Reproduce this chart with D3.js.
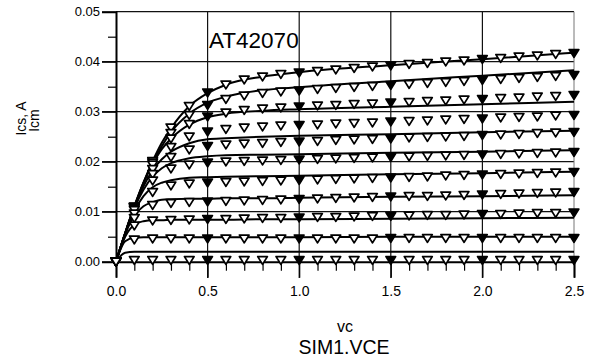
<!DOCTYPE html>
<html>
<head>
<meta charset="utf-8">
<script src="https://cdn.jsdelivr.net/npm/d3@7/dist/d3.min.js"></script>
<style>
  html, body { margin: 0; padding: 0; background: #fff; }
  svg { display: block; font-family: "Liberation Sans", Arial, sans-serif; }
</style>
</head>
<body>
<svg id="chart" width="595" height="362"></svg>
<script>
// ---------------- DATA ----------------
const chartTitle = "AT42070";
const yTitleLines = ["Ics, A", "Icm"];
const xTitleLines = ["vc", "SIM1.VCE"];
const xTickValues = [0.0, 0.5, 1.0, 1.5, 2.0, 2.5];
const xTickLabels = ["0.0", "0.5", "1.0", "1.5", "2.0", "2.5"];
const yTickValues = [0.00, 0.01, 0.02, 0.03, 0.04, 0.05];
const yTickLabels = ["0.00", "0.01", "0.02", "0.03", "0.04", "0.05"];
const xMinorTicks = [0.1,0.2,0.3,0.4,0.6,0.7,0.8,0.9,1.1,1.2,1.3,1.4,1.6,1.7,1.8,1.9,2.1,2.2,2.3,2.4];
const yMinorTicks = [0.005, 0.015, 0.025, 0.035, 0.045];

// simulated curves (solid lines): VCE points and Icm values
const simVce = [0, 0.05, 0.1, 0.15, 0.2, 0.25, 0.3, 0.4, 0.5, 0.6, 0.8, 1.0, 1.5, 2.0, 2.5];
const sim1  = [0, .0056, .0109, .0158, .0201, .0238, .0267, .0311, .0337, .0354, .0370, .0379, .0393, .0405, .0418];
const sim2  = [0, .0056, .0109, .0157, .0198, .0231, .0259, .0296, .0318, .0330, .0343, .0349, .0361, .0372, .0383];
const sim3  = [0, .0057, .0111, .0158, .0195, .0225, .0246, .0274, .0289, .0296, .0302, .0305, .0310, .0315, .0320];
const sim4  = [0, .0058, .0109, .0151, .0183, .0205, .0220, .0237, .0245, .0247, .0250, .0252, .0255, .0259, .0262];
const sim5  = [0, .0057, .0107, .0144, .0170, .0187, .0197, .0207, .0211, .0213, .0214, .0215, .0218, .0220, .0223];
const sim6  = [0, .0056, .0101, .0131, .0149, .0158, .0163, .0168, .0169, .0170, .0171, .0172, .0175, .0177, .0180];
const sim7  = [0, .0055, .0092, .0111, .0119, .0124, .0125, .0126, .0126, .0127, .0127, .0128, .0130, .0131, .0133];
const sim8  = [0, .0050, .0074, .0081, .0083, .0083, .0084, .0084, .0084, .0084, .0085, .0085, .0086, .0087, .0088];
const sim9  = [0, .0041, .0048, .0049, .0049, .0049, .0049, .0049, .0049, .0049, .0049, .0049, .0050, .0050, .0050];
const sim10 = [0, .0018, .0020, .0020, .0020, .0020, .0020, .0020, .0020, .0020, .0020, .0020, .0020, .0020, .0020];

// measured points (triangles): VCE every 0.1 V and Ics values
const measVce = [0,0.1,0.2,0.3,0.4,0.5,0.6,0.7,0.8,0.9,1.0,1.1,1.2,1.3,1.4,1.5,1.6,1.7,1.8,1.9,2.0,2.1,2.2,2.3,2.4,2.5];
const meas1  = [0,.0109,.0201,.0268,.0311,.0338,.0354,.0364,.0370,.0375,.0378,.0381,.0384,.0387,.0390,.0392,.0395,.0397,.0400,.0402,.0405,.0407,.0410,.0412,.0415,.0417];
const meas2  = [0,.0109,.0198,.0257,.0293,.0313,.0325,.0332,.0337,.0340,.0342,.0345,.0347,.0349,.0351,.0353,.0355,.0357,.0359,.0361,.0363,.0365,.0367,.0369,.0371,.0373];
const meas3  = [0,.0110,.0194,.0246,.0275,.0290,.0298,.0303,.0306,.0308,.0310,.0312,.0313,.0315,.0316,.0318,.0319,.0321,.0322,.0324,.0325,.0327,.0328,.0330,.0331,.0333];
const meas4  = [0,.0108,.0185,.0229,.0250,.0260,.0265,.0268,.0270,.0272,.0273,.0274,.0276,.0277,.0278,.0280,.0281,.0282,.0284,.0285,.0286,.0288,.0289,.0290,.0292,.0293];
const meas5  = [0,.0106,.0175,.0209,.0224,.0231,.0234,.0236,.0237,.0239,.0240,.0241,.0243,.0244,.0245,.0246,.0248,.0249,.0250,.0251,.0253,.0254,.0255,.0257,.0258,.0259];
const meas6  = [0,.0103,.0162,.0186,.0194,.0198,.0200,.0201,.0202,.0203,.0204,.0205,.0206,.0207,.0208,.0209,.0210,.0211,.0212,.0213,.0214,.0215,.0216,.0217,.0218,.0219];
const meas7  = [0,.0096,.0139,.0152,.0156,.0158,.0159,.0160,.0161,.0162,.0163,.0164,.0165,.0166,.0167,.0168,.0169,.0170,.0172,.0173,.0174,.0175,.0176,.0177,.0178,.0179];
const meas8  = [0,.0087,.0113,.0117,.0119,.0120,.0121,.0122,.0123,.0124,.0125,.0126,.0127,.0128,.0129,.0130,.0131,.0131,.0132,.0133,.0134,.0135,.0136,.0137,.0138,.0139];
const meas9  = [0,.0072,.0082,.0083,.0084,.0085,.0085,.0086,.0087,.0087,.0088,.0089,.0089,.0090,.0091,.0091,.0092,.0093,.0093,.0094,.0095,.0095,.0096,.0097,.0097,.0098];
const meas10 = [0,.0044,.0046,.0046,.0046,.0046,.0046,.0046,.0046,.0046,.0046,.0046,.0046,.0046,.0046,.0047,.0047,.0047,.0047,.0047,.0047,.0047,.0047,.0047,.0047,.0047];
const meas11 = [0,.0003,.0003,.0003,.0003,.0003,.0003,.0003,.0003,.0003,.0003,.0003,.0003,.0003,.0003,.0003,.0003,.0003,.0003,.0003,.0003,.0003,.0003,.0003,.0003,.0003];

const simSeries = [sim1, sim2, sim3, sim4, sim5, sim6, sim7, sim8, sim9, sim10];
const measSeries = [meas1, meas2, meas3, meas4, meas5, meas6, meas7, meas8, meas9, meas10, meas11];

// ---------------- DRAW ----------------
const svg = d3.select("#chart");
const x = d3.scaleLinear().domain([0, 2.5]).range([116, 574]);
const y = d3.scaleLinear().domain([0, 0.05]).range([261.7, 11.7]);

// gridlines
const grid = svg.append("g").attr("stroke", "#111").attr("stroke-width", 1.2);
grid.selectAll("line.h").data(yTickValues.filter(v => v > 0 && v < 0.05)).join("line")
  .attr("x1", 102).attr("x2", x(2.5)).attr("y1", d => y(d)).attr("y2", d => y(d));
grid.selectAll("line.v").data(xTickValues.filter(v => v > 0 && v < 2.5)).join("line")
  .attr("x1", d => x(d)).attr("x2", d => x(d)).attr("y1", y(0.05)).attr("y2", 278);

// frame: top and right
svg.append("line").attr("x1", x(0)).attr("x2", x(2.5)).attr("y1", y(0.05)).attr("y2", y(0.05))
  .attr("stroke", "#111").attr("stroke-width", 1.2);
svg.append("line").attr("x1", x(2.5)).attr("x2", x(2.5)).attr("y1", y(0.05)).attr("y2", y(0))
  .attr("stroke", "#777").attr("stroke-width", 1);

// axes via d3
const yAxis = d3.axisLeft(y).tickValues(yTickValues).tickFormat((d, i) => yTickLabels[i]).tickSize(14).tickPadding(2);
const gy = svg.append("g").attr("transform", `translate(${x(0)},0)`).call(yAxis);
gy.select(".domain").attr("stroke", "#000").attr("stroke-width", 2);
gy.selectAll(".tick line").attr("stroke", "#000").attr("stroke-width", 1.2);
gy.selectAll("text").attr("font-size", 13).attr("fill", "#000").attr("font-family", "Liberation Sans, Arial, sans-serif");
const yMinorAxis = d3.axisLeft(y).tickValues(yMinorTicks).tickFormat("").tickSize(8);
const gym = svg.append("g").attr("transform", `translate(${x(0)},0)`).call(yMinorAxis);
gym.select(".domain").remove();
gym.selectAll(".tick line").attr("stroke", "#000").attr("stroke-width", 1.2);

const xAxis = d3.axisBottom(x).tickValues(xTickValues).tickFormat((d, i) => xTickLabels[i]).tickSize(16).tickPadding(8);
const gx = svg.append("g").attr("transform", `translate(0,${y(0)})`).call(xAxis);
gx.select(".domain").attr("stroke", "#000").attr("stroke-width", 2);
gx.selectAll(".tick line").attr("stroke", "#000").attr("stroke-width", 1.2);
gx.selectAll("text").attr("font-size", 14).attr("fill", "#000").attr("font-family", "Liberation Sans, Arial, sans-serif");
const xMinorAxis = d3.axisBottom(x).tickValues(xMinorTicks).tickFormat("").tickSize(9);
const gxm = svg.append("g").attr("transform", `translate(0,${y(0)})`).call(xMinorAxis);
gxm.select(".domain").remove();
gxm.selectAll(".tick line").attr("stroke", "#000").attr("stroke-width", 1.2);

// simulated lines
const line = d3.line().x((d, i) => x(simVce[i])).y(d => y(d)).curve(d3.curveMonotoneX);
svg.append("g").selectAll("path").data(simSeries).join("path")
  .attr("d", line).attr("fill", "none").attr("stroke", "#000").attr("stroke-width", 2);

// measured triangles
const tri = "M-4.8,-3.6 L4.8,-3.6 L0,4.2 Z";
const pts = [];
measSeries.forEach((s, si) => s.forEach((v, i) => pts.push({ vx: measVce[i], vy: v })));
svg.append("g").selectAll("path").data(pts).join("path")
  .attr("d", tri)
  .attr("transform", d => `translate(${x(d.vx)},${y(d.vy)})`)
  .attr("fill", d => (Math.abs(d.vx * 2 - Math.round(d.vx * 2)) < 1e-6 && d.vx > 0) ? "#000" : "#fff")
  .attr("stroke", "#000").attr("stroke-width", 1.8).attr("stroke-linejoin", "round");

// chart title inside plot
svg.append("text").attr("x", 209).attr("y", 48).attr("font-size", 22.5).attr("fill", "#000").text(chartTitle);

// y titles (rotated)
svg.append("text").attr("transform", "translate(26,118.5) rotate(-90)").attr("text-anchor", "middle")
  .attr("font-size", 14).attr("fill", "#000").text(yTitleLines[0]);
svg.append("text").attr("transform", "translate(39,120.5) rotate(-90)").attr("text-anchor", "middle")
  .attr("font-size", 14).attr("fill", "#000").text(yTitleLines[1]);

// x titles
svg.append("text").attr("x", 345).attr("y", 331.5).attr("text-anchor", "middle")
  .attr("font-size", 16).attr("fill", "#000").text(xTitleLines[0]);
svg.append("text").attr("x", 344).attr("y", 354).attr("text-anchor", "middle")
  .attr("font-size", 19.5).attr("fill", "#000").text(xTitleLines[1]);
</script>
</body>
</html>
